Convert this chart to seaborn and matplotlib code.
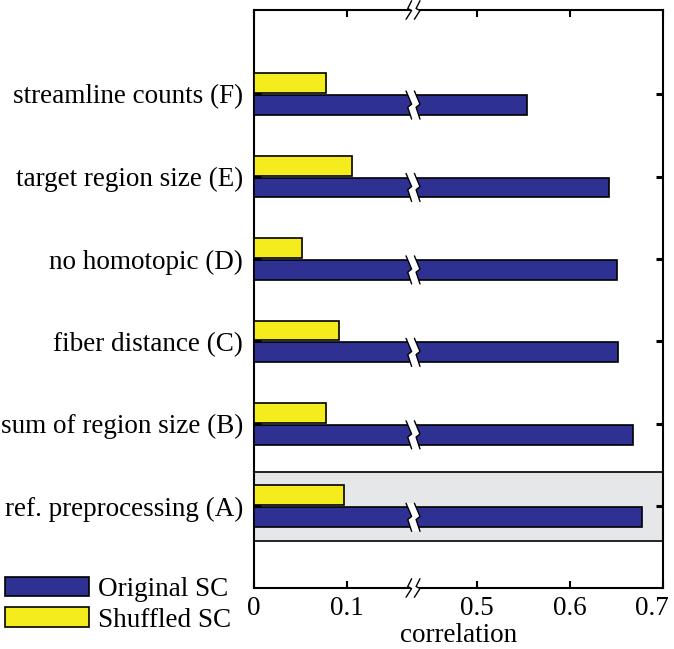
import numpy as np
import pandas as pd
import seaborn as sns
import matplotlib.pyplot as plt
from matplotlib.patches import Patch
from matplotlib.transforms import offset_copy

categories = [
    "streamline counts (F)",
    "target region size (E)",
    "no homotopic (D)",
    "fiber distance (C)",
    "sum of region size (B)",
    "ref. preprocessing (A)",
]
original_sc = [0.554, 0.642, 0.651, 0.652, 0.668, 0.677]
shuffled_sc = [0.077, 0.105, 0.052, 0.091, 0.077, 0.097]
tick_values = [0, 0.1, 0.5, 0.6, 0.7]
tick_labels = ["0", "0.1", "0.5", "0.6", "0.7"]

# broken axis: everything above the gap is shifted left
GAP_SHIFT = 0.26
BREAK_AT = 0.171


def squeeze(v):
    v = np.asarray(v, dtype=float)
    return np.where(v > 0.3, v - GAP_SHIFT, v)


blue = "#2e3192"
yellow = "#f5ec1e"

df = pd.DataFrame({
    "label": categories * 2,
    "kind": ["Shuffled SC"] * 6 + ["Original SC"] * 6,
    "value": list(squeeze(shuffled_sc)) + list(squeeze(original_sc)),
})

sns.set_style("white")
plt.rcParams["font.family"] = ["Liberation Serif", "DejaVu Serif"]
plt.rcParams["text.color"] = "black"
plt.rcParams["xtick.color"] = "black"
plt.rcParams["ytick.color"] = "black"
plt.rcParams["axes.labelcolor"] = "black"

FS = 19.5

fig = plt.figure(figsize=(6.74, 6.49), dpi=100)
ax = fig.add_axes([0.377, 0.094, 0.6067, 0.8906])

sns.barplot(data=df, x="value", y="label", hue="kind", order=categories,
            hue_order=["Shuffled SC", "Original SC"],
            palette={"Shuffled SC": yellow, "Original SC": blue},
            orient="h", width=0.53, gap=0.09, edgecolor="black",
            linewidth=1.2, saturation=1, legend=False, ax=ax, zorder=3)

ax.set_xlim(0, 0.44)
ax.set_ylim(5.99, -1.02)
ax.yaxis.set_zorder(8)

# highlighted reference row
ax.axhspan(5 - 0.42, 5 + 0.42, facecolor="#e6e7e8", edgecolor="black",
           linewidth=1.2, zorder=1)

for s in ax.spines.values():
    s.set_linewidth(1.5)
    s.set_color("black")

ax.set_xticks(squeeze(tick_values))
ax.set_xticklabels(tick_labels)
ax.set_xlabel("correlation", fontsize=FS, labelpad=1)
ax.set_ylabel("")
ax.tick_params(axis="x", direction="in", length=5, width=1.5,
               top=True, bottom=True, pad=6, labelsize=FS)
ax.tick_params(axis="y", direction="in", length=5, width=2.2,
               left=True, right=True, labelsize=FS, pad=8)

# last tick label sits a bit left of the axis end
last = ax.get_xticklabels()[-1]
last.set_transform(offset_copy(last.get_transform(), fig=fig, x=-8, y=0, units="points"))

# break marks on bars
def zigzag(x0, y0, y1, d=0.003):
    ym = (y0 + y1) / 2
    h = (y1 - y0)
    xs = [x0 - d, x0 + d, x0 - d * 0.4, x0 + d]
    ys = [y0, ym - h * 0.03, ym + h * 0.08, y1]
    return np.array(xs), np.array(ys)


bar_offset = 0.1325
for i in range(len(categories)):
    y0 = i + bar_offset - 0.17
    y1 = i + bar_offset + 0.17
    xa, ya = zigzag(BREAK_AT - 0.0045, y0, y1)
    xb, yb = zigzag(BREAK_AT + 0.0045, y0, y1)
    ax.fill(np.concatenate([xa, xb[::-1]]), np.concatenate([ya, yb[::-1]]),
            color="white", zorder=4, lw=0)
    ax.plot(xa, ya, color="black", lw=1.0, zorder=5)
    ax.plot(xb, yb, color="black", lw=1.0, zorder=5)

# break marks on top/bottom spines
trans = ax.get_xaxis_transform()
for yc in (0.0, 1.0):
    y0, y1 = yc - 0.016, yc + 0.016
    xa, ya = zigzag(BREAK_AT - 0.0045, y0, y1)
    xb, yb = zigzag(BREAK_AT + 0.0045, y0, y1)
    ax.fill(np.concatenate([xa, xb[::-1]]), np.concatenate([ya, yb[::-1]]),
            color="white", zorder=9, lw=0, transform=trans, clip_on=False)
    ax.plot(xa, ya, color="black", lw=1.0, zorder=10, transform=trans, clip_on=False)
    ax.plot(xb, yb, color="black", lw=1.0, zorder=10, transform=trans, clip_on=False)

handles = [Patch(facecolor=blue, edgecolor="black", linewidth=1.2, label="Original SC"),
           Patch(facecolor=yellow, edgecolor="black", linewidth=1.2, label="Shuffled SC")]
fig.legend(handles=handles, loc="lower left", bbox_to_anchor=(0.007, 0.025),
           frameon=False, fontsize=FS, handlelength=3.1, handleheight=0.75,
           handletextpad=0.35, labelspacing=0.2, borderaxespad=0.0,
           borderpad=0.0)

fig.savefig("out.png", dpi=100)
